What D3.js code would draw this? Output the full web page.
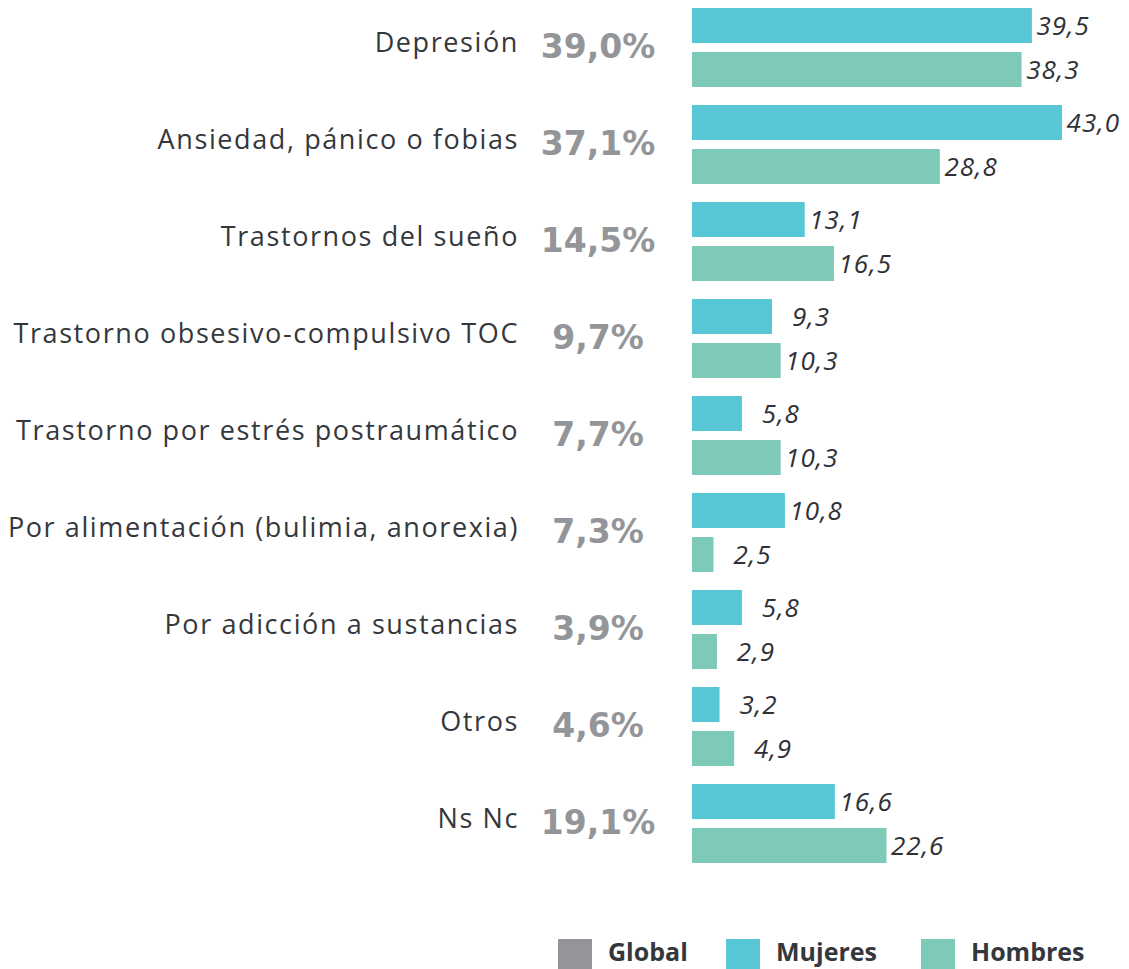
<!DOCTYPE html>
<html>
<head>
<meta charset="utf-8">
<script src="https://cdn.jsdelivr.net/npm/d3@7"></script>
<style>
  html, body { margin: 0; padding: 0; background: #fff; }
  svg { display: block; }
</style>
</head>
<body>
<svg id="chart" width="1129" height="969"></svg>
<script>
const categories = [
  "Depresión",
  "Ansiedad, pánico o fobias",
  "Trastornos del sueño",
  "Trastorno obsesivo-compulsivo TOC",
  "Trastorno por estrés postraumático",
  "Por alimentación (bulimia, anorexia)",
  "Por adicción a sustancias",
  "Otros",
  "Ns Nc"
];
const globalValues = [39.0, 37.1, 14.5, 9.7, 7.7, 7.3, 3.9, 4.6, 19.1];
const mujeres = [39.5, 43.0, 13.1, 9.3, 5.8, 10.8, 5.8, 3.2, 16.6];
const hombres = [38.3, 28.8, 16.5, 10.3, 10.3, 2.5, 2.9, 4.9, 22.6];
const seriesNames = ["Mujeres", "Hombres"];
const legendItems = ["Global", "Mujeres", "Hombres"];

const colors = { Global: "#939598", Mujeres: "#57C7D5", Hombres: "#7CCAB7" };
const fmt = v => v.toFixed(1).replace(".", ",");

const svg = d3.select("#chart");
const x0 = 692;
const x = d3.scaleLinear().domain([0, 43]).range([x0, 1062]);
const y = d3.scaleBand().domain(categories).range([-1, 872])
  .paddingInner(18 / 97).paddingOuter(9 / 97);
const yInner = d3.scaleBand().domain(seriesNames).range([0, y.bandwidth()])
  .paddingInner(9 / 44).paddingOuter(0);

const rows = categories.map((c, i) => ({
  cat: c, global: globalValues[i],
  values: [{ s: "Mujeres", v: mujeres[i] }, { s: "Hombres", v: hombres[i] }]
}));

const g = svg.selectAll("g.row").data(rows).join("g")
  .attr("class", "row")
  .attr("transform", d => `translate(0,${y(d.cat)})`);

const mid = y.bandwidth() / 2;

g.append("text")
  .attr("x", 519).attr("y", mid + 4)
  .attr("text-anchor", "end")
  .attr("font-family", "'Open Sans', sans-serif")
  .attr("font-size", 27)
  .attr("letter-spacing", 1.6)
  .attr("fill", "#34373c")
  .text(d => d.cat);

g.append("text")
  .attr("x", 598).attr("y", mid + 10)
  .attr("text-anchor", "middle")
  .attr("font-family", "'DejaVu Sans', sans-serif")
  .attr("font-weight", "bold")
  .attr("font-size", 33)
  .attr("fill", "#939598")
  .text(d => fmt(d.global) + "%");

const b = g.selectAll("g.bar").data(d => d.values).join("g").attr("class", "bar");
b.append("rect")
  .attr("x", x0)
  .attr("y", d => yInner(d.s))
  .attr("width", d => x(d.v) - x0)
  .attr("height", yInner.bandwidth())
  .attr("fill", d => colors[d.s]);
b.append("text")
  .attr("x", d => x(d.v) + 58)
  .attr("y", d => yInner(d.s) + yInner.bandwidth() / 2 + 9)
  .attr("text-anchor", "end")
  .attr("font-family", "'Open Sans', sans-serif")
  .attr("font-style", "italic")
  .attr("font-size", 26)
  .attr("letter-spacing", 1)
  .attr("fill", "#2f3136")
  .text(d => fmt(d.v));

// Legend
const legendX = [558, 726, 921];
const lg = svg.selectAll("g.legend").data(legendItems).join("g")
  .attr("class", "legend")
  .attr("transform", (d, i) => `translate(${legendX[i]},939)`);
lg.append("rect").attr("width", 34).attr("height", 30).attr("fill", d => colors[d]);
lg.append("text")
  .attr("x", 50).attr("y", 22)
  .attr("font-family", "'Open Sans', sans-serif")
  .attr("font-weight", "bold")
  .attr("font-size", 25)
  .attr("fill", "#34373c")
  .text(d => d);
</script>
</body>
</html>
